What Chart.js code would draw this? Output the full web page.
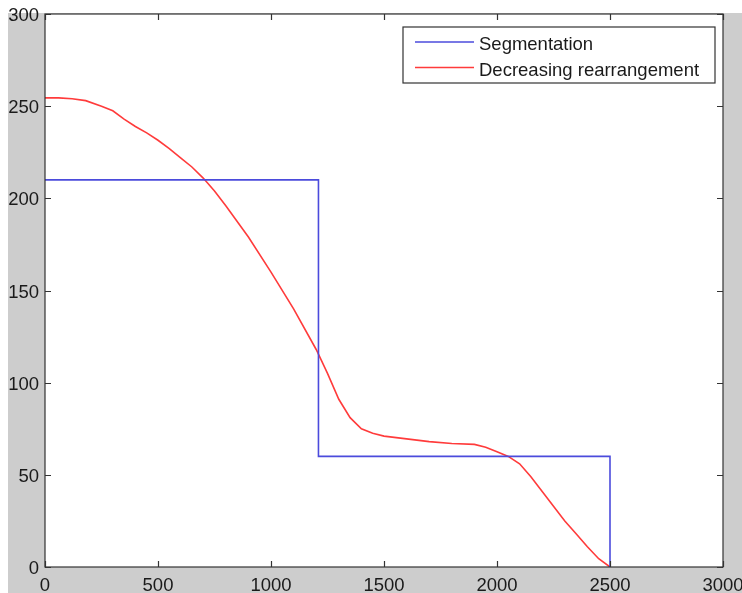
<!DOCTYPE html>
<html>
<head>
<meta charset="utf-8">
<script src="https://cdn.jsdelivr.net/npm/chart.js@4"></script>
<style>
  html, body { margin: 0; padding: 0; background: #ffffff; }
  #wrap { position: relative; width: 742px; height: 593px; }
</style>
</head>
<body>
<div id="wrap"><canvas id="c" width="742" height="593"></canvas></div>
<script>
// ---- data ----
const segX = [0, 1210, 1210, 2500, 2500];
const segY = [210, 210, 60, 60, 0];

const rearrX = [0, 60, 120, 180, 250, 300, 350, 400, 450, 500, 550, 600, 650, 700, 750, 800, 900, 1000, 1100, 1200, 1250, 1300, 1350, 1400, 1450, 1500, 1600, 1700, 1800, 1900, 1950, 2000, 2050, 2100, 2150, 2200, 2250, 2300, 2350, 2400, 2450, 2500];
const rearrY = [254.5, 254.5, 254, 253, 250, 247.5, 243, 239, 235.5, 231.5, 227, 222, 217, 211, 204, 196, 179, 160, 140, 118, 105, 91, 81, 75, 72.5, 71, 69.5, 68, 67, 66.5, 65, 62.5, 60, 56, 49, 41, 33, 25, 18, 11, 4.5, 0];

const xTicks = [0, 500, 1000, 1500, 2000, 2500, 3000];
const yTicks = [0, 50, 100, 150, 200, 250, 300];
const seriesNames = ["Segmentation", "Decreasing rearrangement"];
const seriesColors = ["#4b4bdc", "#ff3b3b"];

const FONT = '"Liberation Sans", Arial, Helvetica, sans-serif';
const FS = 18.5;

const toPts = (xs, ys) => xs.map((x, i) => ({x: x, y: ys[i]}));

const framePlugin = {
  id: 'frame',
  beforeDraw(chart) {
    const ctx = chart.ctx, a = chart.chartArea;
    ctx.save();
    ctx.fillStyle = '#cdcdcd';
    ctx.fillRect(8, 13, chart.width - 8, chart.height - 13);
    ctx.fillStyle = '#ffffff';
    ctx.fillRect(a.left, a.top, a.right - a.left, a.bottom - a.top);
    ctx.restore();
  },
  afterDatasetsDraw(chart) {
    const ctx = chart.ctx, a = chart.chartArea;
    const xs = chart.scales.x, ys = chart.scales.y;
    ctx.save();
    ctx.strokeStyle = '#333333';
    ctx.lineWidth = 1.2;
    ctx.strokeRect(a.left, a.top, a.right - a.left, a.bottom - a.top);
    const L = 6;
    ctx.beginPath();
    xTicks.forEach(v => {
      const p = Math.round(xs.getPixelForValue(v)) + 0.5;
      ctx.moveTo(p, a.bottom); ctx.lineTo(p, a.bottom - L);
      ctx.moveTo(p, a.top); ctx.lineTo(p, a.top + L);
    });
    yTicks.forEach(v => {
      const p = Math.round(ys.getPixelForValue(v)) + 0.5;
      ctx.moveTo(a.left, p); ctx.lineTo(a.left + L, p);
      ctx.moveTo(a.right, p); ctx.lineTo(a.right - L, p);
    });
    ctx.stroke();

    // legend box
    const bx = 403, by = 27, bw = 312, bh = 56;
    ctx.fillStyle = '#ffffff';
    ctx.fillRect(bx, by, bw, bh);
    ctx.strokeStyle = '#333333';
    ctx.lineWidth = 1.2;
    ctx.strokeRect(bx, by, bw, bh);
    ctx.font = FS + 'px ' + FONT;
    ctx.textBaseline = 'middle';
    ctx.textAlign = 'left';
    const rows = [42, 67.5];
    seriesNames.forEach((n, i) => {
      ctx.strokeStyle = seriesColors[i];
      ctx.lineWidth = 1.6;
      ctx.beginPath();
      ctx.moveTo(415, rows[i]); ctx.lineTo(474, rows[i]);
      ctx.stroke();
      ctx.fillStyle = '#1a1a1a';
      ctx.fillText(n, 479, rows[i] + 3);
    });
    ctx.restore();
  }
};

new Chart(document.getElementById('c'), {
  type: 'line',
  data: {
    datasets: [
      { label: seriesNames[0], data: toPts(segX, segY), borderColor: seriesColors[0], borderWidth: 1.6, pointRadius: 0, tension: 0, fill: false },
      { label: seriesNames[1], data: toPts(rearrX, rearrY), borderColor: seriesColors[1], borderWidth: 1.6, pointRadius: 0, tension: 0, fill: false }
    ]
  },
  options: {
    responsive: false,
    animation: false,
    events: [],
    layout: { padding: { left: 0, right: 19, top: 14, bottom: 0 } },
    plugins: { legend: { display: false }, tooltip: { enabled: false } },
    scales: {
      x: {
        type: 'linear', min: 0, max: 3000,
        afterBuildTicks: s => { s.ticks = xTicks.map(v => ({value: v})); },
        afterFit: s => { s.height = 26; s.paddingLeft = 0; s.paddingRight = 0; },
        grid: { display: false, drawTicks: false },
        border: { display: false },
        ticks: { color: '#1a1a1a', font: { family: FONT, size: FS }, padding: 8, maxRotation: 0, autoSkip: false,
                 callback: v => String(v) }
      },
      y: {
        type: 'linear', min: 0, max: 300,
        afterBuildTicks: s => { s.ticks = yTicks.map(v => ({value: v})); },
        afterFit: s => { s.width = 45; s.paddingTop = 0; s.paddingBottom = 0; },
        grid: { display: false, drawTicks: false },
        border: { display: false },
        ticks: { color: '#1a1a1a', font: { family: FONT, size: FS }, padding: 6, autoSkip: false, labelOffset: 2,
                 callback: v => String(v) }
      }
    }
  },
  plugins: [framePlugin]
});
</script>
</body>
</html>
